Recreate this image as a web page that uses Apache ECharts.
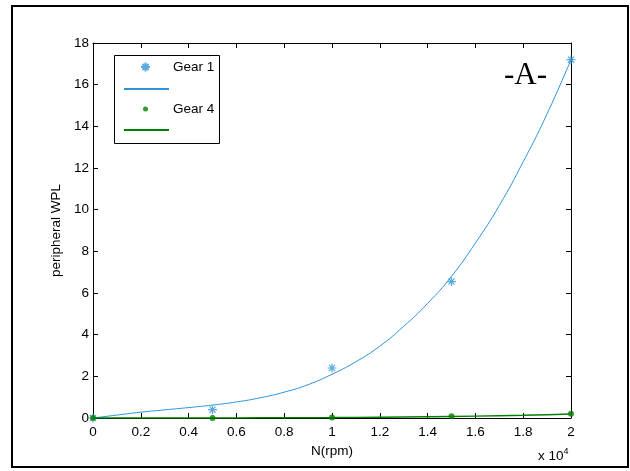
<!DOCTYPE html>
<html>
<head>
<meta charset="utf-8">
<script src="https://cdn.jsdelivr.net/npm/echarts@6/dist/echarts.min.js"></script>
<style>
  html, body { margin: 0; padding: 0; background: #fff; }
  #main { width: 630px; height: 471px; }
</style>
</head>
<body>
<div id="main"></div>
<script>
// measured points, N in rpm
const rpm = [0, 5000, 10000, 15000, 20000];
const gear1 = [0, 0.4, 2.4, 6.55, 17.2];
const gear4 = [0, 0.0, 0.02, 0.09, 0.2];

// fitted curves, every 1000 rpm
const fitRpm = [0, 1000, 2000, 3000, 4000, 5000, 6000, 7000, 8000, 9000, 10000,
  11000, 12000, 13000, 14000, 15000, 16000, 17000, 18000, 19000, 20000];
const fit1 = [0, 0.14, 0.28, 0.39, 0.5, 0.62, 0.77, 0.97, 1.24, 1.6, 2.1,
  2.7, 3.45, 4.4, 5.5, 6.8, 8.4, 10.2, 12.3, 14.6, 17.2];
const fit4 = [0, 0, 0, 0, 0, 0, 0.005, 0.01, 0.01, 0.015, 0.02,
  0.03, 0.04, 0.05, 0.06, 0.075, 0.09, 0.11, 0.13, 0.16, 0.19];

const blue = '#2f93dc';
const green = '#008000';
const font = 'Liberation Sans, Arial, sans-serif';
const fontSize = 13.5;
const star = 'path://M5,0L5,10M0,5L10,5M1.6,1.6L8.4,8.4M1.6,8.4L8.4,1.6';

const pairs = (xs, ys) => xs.map((x, i) => [x, ys[i]]);

const chart = echarts.init(document.getElementById('main'), null, { renderer: 'canvas' });

const tickStyle = { show: true, inside: true, length: 5, lineStyle: { color: '#000' } };
const txt = { fontFamily: font, fontSize: fontSize, color: '#000' };

// one legend per row so every icon gets its own size
const legendRow = (name, top, padLeft, itemHeight, textSize) => ({
  left: 114,
  top: top,
  orient: 'vertical',
  padding: [0, 0, 0, padLeft],
  itemWidth: 45,
  itemHeight: itemHeight,
  selectedMode: false,
  textStyle: Object.assign({}, txt, { fontSize: textSize }),
  formatter: n => (n.indexOf('fit') === 0 ? '' : n),
  data: [name]
});

chart.setOption({
  animation: false,
  backgroundColor: '#fff',
  textStyle: { fontFamily: font },
  grid: { left: 93, top: 43, right: 59, bottom: 53 },
  legend: [
    legendRow('Gear 1', 60, 26, 9, fontSize),
    legendRow('fit 1', 82, 9, 14, 9),
    legendRow('Gear 4', 102, 29, 5, fontSize),
    legendRow('fit 4', 123, 9, 14, 9)
  ],
  xAxis: [
    {
      type: 'value',
      min: 0,
      max: 20000,
      interval: 2000,
      name: 'N(rpm)',
      nameLocation: 'middle',
      nameGap: 24,
      nameTextStyle: txt,
      axisLine: { onZero: false, lineStyle: { color: '#000' } },
      axisTick: tickStyle,
      axisLabel: Object.assign({
        margin: 7,
        formatter: v => String(parseFloat((v / 10000).toFixed(1)))
      }, txt),
      splitLine: { show: false }
    },
    {
      type: 'value',
      position: 'top',
      min: 0,
      max: 20000,
      interval: 2000,
      axisLine: { onZero: false, lineStyle: { color: '#000' } },
      axisTick: tickStyle,
      axisLabel: { show: false },
      splitLine: { show: false }
    }
  ],
  yAxis: [
    {
      type: 'value',
      min: 0,
      max: 18,
      interval: 2,
      name: 'peripheral WPL',
      nameLocation: 'middle',
      nameGap: 25,
      nameTextStyle: txt,
      axisLine: { show: true, onZero: false, lineStyle: { color: '#000' } },
      axisTick: tickStyle,
      axisLabel: Object.assign({ margin: 4 }, txt),
      splitLine: { show: false }
    },
    {
      type: 'value',
      position: 'right',
      min: 0,
      max: 18,
      interval: 2,
      axisLine: { show: true, onZero: false, lineStyle: { color: '#000' } },
      axisTick: tickStyle,
      axisLabel: { show: false },
      splitLine: { show: false }
    }
  ],
  series: [
    {
      name: 'Gear 1',
      type: 'scatter',
      data: pairs(rpm, gear1),
      symbol: star,
      symbolSize: 9,
      itemStyle: { color: blue, borderColor: blue, borderWidth: 1.2 },
      z: 3
    },
    {
      name: 'fit 1',
      type: 'line',
      data: pairs(fitRpm, fit1),
      smooth: true,
      showSymbol: false,
      symbol: 'circle',
      lineStyle: { color: blue, width: 1 },
      itemStyle: { color: 'rgba(0,0,0,0)', borderWidth: 0 },
      z: 2
    },
    {
      name: 'Gear 4',
      type: 'scatter',
      data: pairs(rpm, gear4),
      symbol: 'circle',
      symbolSize: 6,
      itemStyle: { color: green },
      z: 5
    },
    {
      name: 'fit 4',
      type: 'line',
      data: pairs(fitRpm, fit4),
      showSymbol: false,
      symbol: 'circle',
      lineStyle: { color: green, width: 1.5 },
      itemStyle: { color: 'rgba(0,0,0,0)', borderWidth: 0 },
      z: 4
    }
  ],
  graphic: [
    {
      type: 'rect',
      shape: { x: 12, y: 6, width: 616, height: 461 },
      style: { fill: 'none', stroke: '#000', lineWidth: 2 },
      silent: true
    },
    {
      type: 'rect',
      shape: { x: 114.5, y: 55.5, width: 105, height: 88 },
      style: { fill: '#fff', stroke: '#000', lineWidth: 1 },
      z: 1,
      silent: true
    },
    {
      type: 'text',
      left: 504,
      top: 60,
      style: { text: '-A-', fontFamily: 'Liberation Serif, Times New Roman, serif', fontSize: 31, fill: '#000' }
    },
    {
      type: 'text',
      left: 538,
      top: 447,
      style: {
        text: 'x 10{sup|4}',
        fontFamily: font,
        fontSize: fontSize,
        fill: '#000',
        rich: { sup: { fontSize: 9, verticalAlign: 'top', padding: [0, 0, 9, 0], fontFamily: font } }
      }
    }
  ]
});
</script>
</body>
</html>
